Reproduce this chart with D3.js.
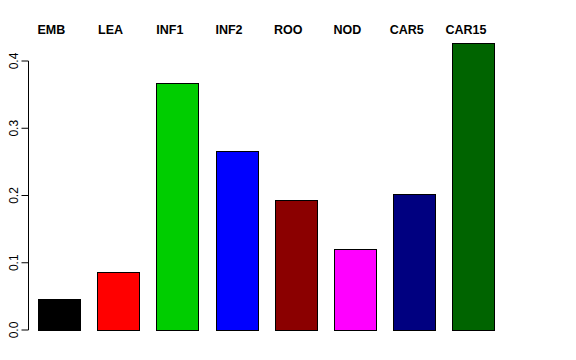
<!DOCTYPE html>
<html>
<head>
<meta charset="utf-8">
<script src="https://d3js.org/d3.v7.min.js"></script>
<style>
  body { margin: 0; background: #fff; }
  svg text { font-family: "Liberation Sans", Arial, sans-serif; }
</style>
</head>
<body>
<svg id="chart"></svg>
<script>
var width = 576, height = 360;

var categories = ["EMB", "LEA", "INF1", "INF2", "ROO", "NOD", "CAR5", "CAR15"];
var values = [0.046, 0.086, 0.367, 0.266, 0.193, 0.120, 0.202, 0.427];
var colors = ["#000000", "#ff0000", "#00cd00", "#0000ff", "#8b0000", "#ff00ff", "#000080", "#006400"];
var yTicks = [0.0, 0.1, 0.2, 0.3, 0.4];

var svg = d3.select("#chart")
    .attr("width", width)
    .attr("height", height);

var x = d3.scaleBand()
    .domain(categories)
    .range([38, 494.3])
    .paddingInner(0.294)
    .paddingOuter(0);

var y = d3.scaleLinear()
    .domain([0, 0.4])
    .range([330, 61]);

// bars
svg.selectAll("rect.bar")
    .data(values)
    .enter().append("rect")
    .attr("class", "bar")
    .attr("x", function(d, i) { return Math.round(x(categories[i])) + 0.5; })
    .attr("y", function(d) { return Math.round(y(d)) + 0.5; })
    .attr("width", Math.round(x.bandwidth()))
    .attr("height", function(d) { return Math.round(y(0)) - Math.round(y(d)); })
    .attr("fill", function(d, i) { return colors[i]; })
    .attr("stroke", "#000")
    .attr("stroke-width", 1);

// category labels on top
svg.selectAll("text.cat")
    .data(categories)
    .enter().append("text")
    .attr("class", "cat")
    .attr("x", function(d) { return x(d) + x.bandwidth() / 2 - 7.5; })
    .attr("y", 34)
    .attr("text-anchor", "middle")
    .attr("font-weight", "bold")
    .attr("font-size", 12.5)
    .text(function(d) { return d; });

// y axis
var axis = svg.append("g")
    .attr("transform", "translate(28.5,0)")
    .call(d3.axisLeft(y).tickValues(yTicks).tickSize(7).tickFormat(d3.format(".1f")));

axis.select(".domain").attr("d", "M0," + y(0.4) + "V" + y(0));
axis.selectAll("line").attr("stroke", "#000");
axis.selectAll("text")
    .attr("font-size", 12)
    .attr("fill", "#000")
    .attr("transform", function(d) { return "translate(-11," + y(d) + ") rotate(-90)"; })
    .attr("x", 0)
    .attr("y", 0)
    .attr("dy", "0")
    .attr("text-anchor", "middle");
axis.selectAll(".tick").attr("transform", null);
axis.selectAll(".tick line").attr("transform", function(d) { return "translate(0," + y(d) + ")"; });
</script>
</body>
</html>
